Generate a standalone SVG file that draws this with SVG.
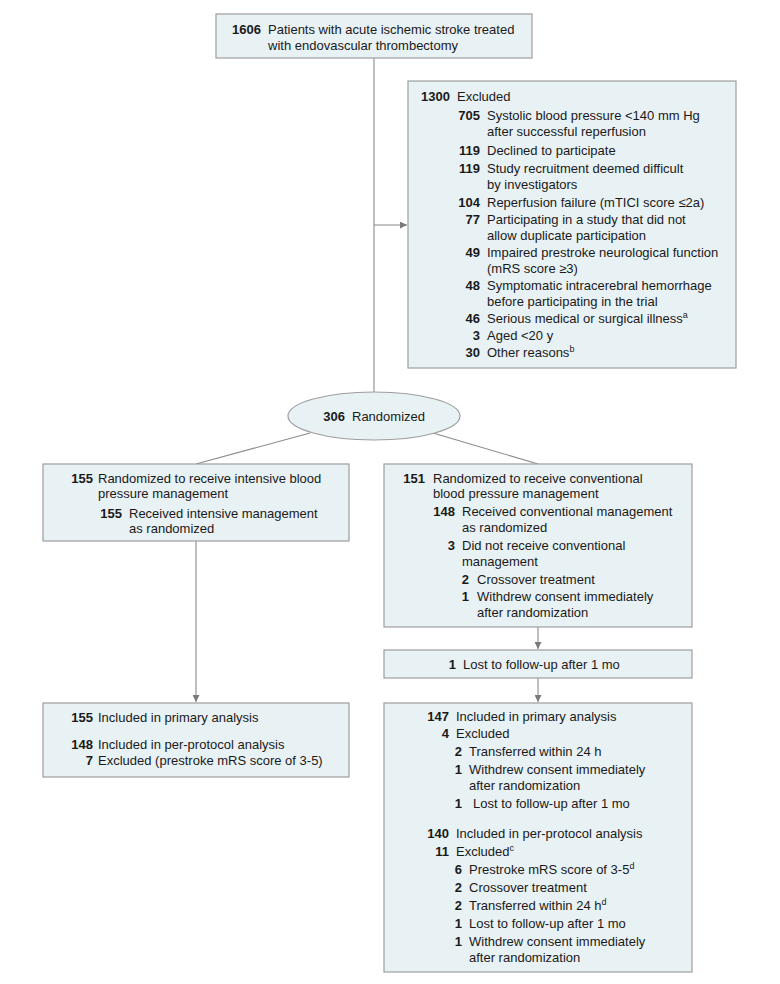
<svg xmlns="http://www.w3.org/2000/svg" width="780" height="984" viewBox="0 0 780 984">
<defs>
<marker id="arr" viewBox="0 0 10 10" refX="10" refY="5" markerWidth="7" markerHeight="7" markerUnits="userSpaceOnUse" orient="auto">
<path d="M0,0 L10,5 L0,10 z" fill="#7a7a7a"/>
</marker>
<style>
.box{fill:#e8f1f4;stroke:#9e9e9e;stroke-width:1.2}
text{font-family:"Liberation Sans",Arial,sans-serif;font-size:13px;fill:#1a1a1a}
.n{font-weight:bold;text-anchor:end}
.ln{stroke:#8a8a8a;stroke-width:1.1;fill:none}
.sup{font-size:9px}
</style>
</defs>
<rect width="780" height="984" fill="#fff"/>
<g id="connectors">
<line class="ln" x1="374" y1="58" x2="374" y2="392"/>
<line class="ln" x1="374" y1="225" x2="407" y2="225" marker-end="url(#arr)"/>
<line class="ln" x1="310" y1="433" x2="196" y2="464"/>
<line class="ln" x1="433" y1="433" x2="538" y2="464"/>
<line class="ln" x1="196" y1="541" x2="196" y2="702" marker-end="url(#arr)"/>
<line class="ln" x1="538" y1="627" x2="538" y2="649" marker-end="url(#arr)"/>
<line class="ln" x1="538" y1="678" x2="538" y2="702" marker-end="url(#arr)"/>
</g>
<g id="n-total">
<rect class="box" x="216" y="14" width="316" height="44"/>
<text class="n" x="261" y="34">1606</text>
<text x="268" y="34">Patients with acute ischemic stroke treated</text>
<text x="268" y="50">with endovascular thrombectomy</text>
</g>
<g id="n-excluded">
<rect class="box" x="408" y="81" width="328" height="287"/>
<text class="n" x="450" y="101">1300</text>
<text x="457" y="101">Excluded</text>
<text class="n" x="480" y="120">705</text>
<text x="487" y="120">Systolic blood pressure &lt;140 mm Hg</text>
<text x="487" y="136">after successful reperfusion</text>
<text class="n" x="480" y="155">119</text>
<text x="487" y="155">Declined to participate</text>
<text class="n" x="480" y="173">119</text>
<text x="487" y="173">Study recruitment deemed difficult</text>
<text x="487" y="189">by investigators</text>
<text class="n" x="480" y="207">104</text>
<text x="487" y="207">Reperfusion failure (mTICI score ≤2a)</text>
<text class="n" x="480" y="224">77</text>
<text x="487" y="224">Participating in a study that did not</text>
<text x="487" y="240">allow duplicate participation</text>
<text class="n" x="480" y="257">49</text>
<text x="487" y="257">Impaired prestroke neurological function</text>
<text x="487" y="273">(mRS score ≥3)</text>
<text class="n" x="480" y="290">48</text>
<text x="487" y="290">Symptomatic intracerebral hemorrhage</text>
<text x="487" y="306">before participating in the trial</text>
<text class="n" x="480" y="323">46</text>
<text x="487" y="323">Serious medical or surgical illness<tspan class="sup" dy="-5">a</tspan></text>
<text class="n" x="480" y="340">3</text>
<text x="487" y="340">Aged &lt;20 y</text>
<text class="n" x="480" y="357">30</text>
<text x="487" y="357">Other reasons<tspan class="sup" dy="-5">b</tspan></text>
</g>
<g id="n-randomized">
<ellipse cx="374" cy="416" rx="86" ry="24" fill="#e8f1f4" stroke="#9e9e9e" stroke-width="1.2"/>
<text class="n" x="345" y="421">306</text>
<text x="352" y="421">Randomized</text>
</g>
<g id="n-intensive">
<rect class="box" x="43" y="464" width="306" height="77"/>
<text class="n" x="93" y="483">155</text>
<text x="98" y="483">Randomized to receive intensive blood</text>
<text x="98" y="498">pressure management</text>
<text class="n" x="122" y="518">155</text>
<text x="129" y="518">Received intensive management</text>
<text x="129" y="533">as randomized</text>
</g>
<g id="n-conventional">
<rect class="box" x="384" y="464" width="308" height="163"/>
<text class="n" x="425" y="483">151</text>
<text x="433" y="483">Randomized to receive conventional</text>
<text x="433" y="498">blood pressure management</text>
<text class="n" x="455" y="516">148</text>
<text x="462" y="516">Received conventional management</text>
<text x="462" y="532">as randomized</text>
<text class="n" x="455" y="550">3</text>
<text x="462" y="550">Did not receive conventional</text>
<text x="462" y="566">management</text>
<text class="n" x="469" y="584">2</text>
<text x="477" y="584">Crossover treatment</text>
<text class="n" x="469" y="601">1</text>
<text x="477" y="601">Withdrew consent immediately</text>
<text x="477" y="617">after randomization</text>
</g>
<g id="n-lost">
<rect class="box" x="384" y="650" width="308" height="28"/>
<text class="n" x="456" y="669">1</text>
<text x="463" y="669">Lost to follow-up after 1 mo</text>
</g>
<g id="n-analysis-intensive">
<rect class="box" x="43" y="703" width="306" height="74"/>
<text class="n" x="93" y="722">155</text>
<text x="98" y="722">Included in primary analysis</text>
<text class="n" x="93" y="749">148</text>
<text x="98" y="749">Included in per-protocol analysis</text>
<text class="n" x="93" y="765">7</text>
<text x="98" y="765">Excluded (prestroke mRS score of 3-5)</text>
</g>
<g id="n-analysis-conventional">
<rect class="box" x="384" y="703" width="308" height="269"/>
<text class="n" x="449" y="721">147</text>
<text x="456" y="721">Included in primary analysis</text>
<text class="n" x="449" y="738">4</text>
<text x="456" y="738">Excluded</text>
<text class="n" x="462" y="756">2</text>
<text x="469" y="756">Transferred within 24 h</text>
<text class="n" x="462" y="774">1</text>
<text x="469" y="774">Withdrew consent immediately</text>
<text x="469" y="790">after randomization</text>
<text class="n" x="462" y="808">1</text>
<text x="473" y="808">Lost to follow-up after 1 mo</text>
<text class="n" x="449" y="838">140</text>
<text x="456" y="838">Included in per-protocol analysis</text>
<text class="n" x="449" y="856">11</text>
<text x="456" y="856">Excluded<tspan class="sup" dy="-5">c</tspan></text>
<text class="n" x="462" y="874">6</text>
<text x="469" y="874">Prestroke mRS score of 3-5<tspan class="sup" dy="-5">d</tspan></text>
<text class="n" x="462" y="892">2</text>
<text x="469" y="892">Crossover treatment</text>
<text class="n" x="462" y="910">2</text>
<text x="469" y="910">Transferred within 24 h<tspan class="sup" dy="-5">d</tspan></text>
<text class="n" x="462" y="928">1</text>
<text x="469" y="928">Lost to follow-up after 1 mo</text>
<text class="n" x="462" y="946">1</text>
<text x="469" y="946">Withdrew consent immediately</text>
<text x="469" y="962">after randomization</text>
</g>
</svg>
